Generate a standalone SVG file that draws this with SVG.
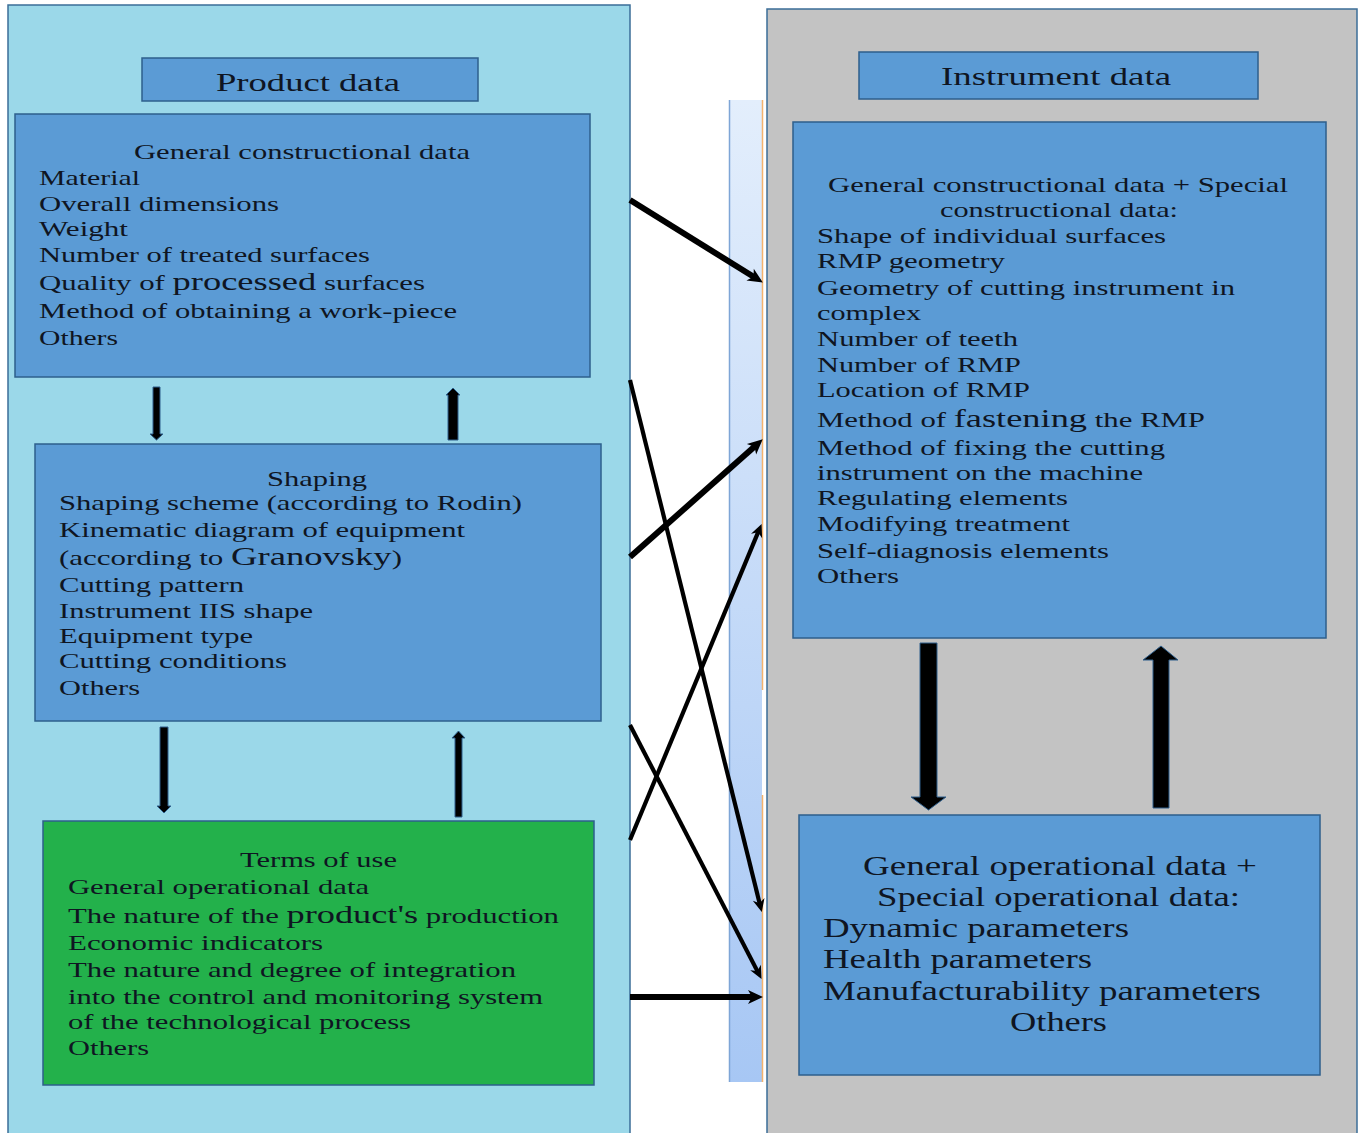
<svg xmlns="http://www.w3.org/2000/svg" width="1363" height="1133" viewBox="0 0 1363 1133">
<defs>
<style>
.panelL{fill:#9bd8e9;stroke:#3b6e98;stroke-width:1.5}
.panelR{fill:#c3c3c3;stroke:#3b6e98;stroke-width:1.5}
.box{fill:#5b9bd5;stroke:#2e5f8c;stroke-width:1.5}
.green{fill:#23b14b;stroke:#2e5f8c;stroke-width:1.5}
text{font-family:"Liberation Serif","Times New Roman",serif;fill:#0f1522}
.t{font-size:22px}
.h{font-size:26px}
.b{font-size:27px}
.big{font-size:26px}
.conn line{stroke:#000}
.blk{fill:#000;stroke:#2e5f8c;stroke-width:1}
</style>
<linearGradient id="strip" x1="0" y1="0" x2="0" y2="1">
<stop offset="0" stop-color="#e3eefc"/>
<stop offset="1" stop-color="#a7c7f4"/>
</linearGradient>
<marker id="ah" markerUnits="userSpaceOnUse" viewBox="-1 -9 18 18" markerWidth="18" markerHeight="18" refX="6" refY="0" orient="auto">
<path d="M0,-7 L15,0 L0,7 L4,0 Z" fill="#000"/>
</marker>
<marker id="ahs" markerUnits="userSpaceOnUse" viewBox="-1 -8 16 16" markerWidth="16" markerHeight="16" refX="6" refY="0" orient="auto">
<path d="M0,-6 L13,0 L0,6 L4,0 Z" fill="#000"/>
</marker>
</defs>

<g id="product-panel">
<rect class="panelL" x="8" y="5" width="622" height="1140"/>
</g>
<g id="instrument-panel">
<rect class="panelR" x="767" y="9" width="590" height="1140"/>
</g>
<g id="middle-strip">
<rect x="729" y="100" width="33" height="982" fill="url(#strip)"/>
<line x1="729.5" y1="100" x2="729.5" y2="1082" stroke="#7ea5d6" stroke-width="1.5"/>
<line x1="762.5" y1="100" x2="762.5" y2="690" stroke="#f4b26c" stroke-width="1.5"/>
<line x1="762.5" y1="795" x2="762.5" y2="1082" stroke="#f4b26c" stroke-width="1.5"/>
</g>

<g id="product-data">
<rect class="box" x="142" y="58" width="336" height="43"/>
<text class="h" x="216" y="91" textLength="184" lengthAdjust="spacingAndGlyphs">Product data</text>
</g>

<g id="general-constructional">
<rect class="box" x="15" y="114" width="575" height="263"/>
<text class="t" x="134" y="159" textLength="336" lengthAdjust="spacingAndGlyphs">General constructional data</text>
<text class="t" x="39" y="185" textLength="101" lengthAdjust="spacingAndGlyphs">Material</text>
<text class="t" x="39" y="211" textLength="240" lengthAdjust="spacingAndGlyphs">Overall dimensions</text>
<text class="t" x="39" y="236" textLength="89" lengthAdjust="spacingAndGlyphs">Weight</text>
<text class="t" x="39" y="262" textLength="331" lengthAdjust="spacingAndGlyphs">Number of treated surfaces</text>
<text class="t" x="39" y="290" textLength="386" lengthAdjust="spacingAndGlyphs">Quality of <tspan class="big">processed</tspan> surfaces</text>
<text class="t" x="39" y="318" textLength="418" lengthAdjust="spacingAndGlyphs">Method of obtaining a work-piece</text>
<text class="t" x="39" y="345" textLength="79" lengthAdjust="spacingAndGlyphs">Others</text>
</g>

<g id="shaping">
<rect class="box" x="35" y="444" width="566" height="277"/>
<text class="t" x="267" y="486" textLength="100" lengthAdjust="spacingAndGlyphs">Shaping</text>
<text class="t" x="59" y="510" textLength="463" lengthAdjust="spacingAndGlyphs">Shaping scheme (according to Rodin)</text>
<text class="t" x="59" y="537" textLength="406" lengthAdjust="spacingAndGlyphs">Kinematic diagram of equipment</text>
<text class="t" x="59" y="565" textLength="343" lengthAdjust="spacingAndGlyphs">(according to <tspan class="big">Granovsky</tspan>)</text>
<text class="t" x="59" y="592" textLength="185" lengthAdjust="spacingAndGlyphs">Cutting pattern</text>
<text class="t" x="59" y="618" textLength="254" lengthAdjust="spacingAndGlyphs">Instrument IIS shape</text>
<text class="t" x="59" y="643" textLength="194" lengthAdjust="spacingAndGlyphs">Equipment type</text>
<text class="t" x="59" y="668" textLength="228" lengthAdjust="spacingAndGlyphs">Cutting conditions</text>
<text class="t" x="59" y="695" textLength="81" lengthAdjust="spacingAndGlyphs">Others</text>
</g>

<g id="terms-of-use">
<rect class="green" x="43" y="821" width="551" height="264"/>
<text class="t" x="240" y="867" textLength="157" lengthAdjust="spacingAndGlyphs">Terms of use</text>
<text class="t" x="68" y="894" textLength="301" lengthAdjust="spacingAndGlyphs">General operational data</text>
<text class="t" x="68" y="923" textLength="491" lengthAdjust="spacingAndGlyphs">The nature of the <tspan class="big">product's</tspan> production</text>
<text class="t" x="68" y="950" textLength="255" lengthAdjust="spacingAndGlyphs">Economic indicators</text>
<text class="t" x="68" y="977" textLength="448" lengthAdjust="spacingAndGlyphs">The nature and degree of integration</text>
<text class="t" x="68" y="1004" textLength="475" lengthAdjust="spacingAndGlyphs">into the control and monitoring system</text>
<text class="t" x="68" y="1029" textLength="343" lengthAdjust="spacingAndGlyphs">of the technological process</text>
<text class="t" x="68" y="1055" textLength="81" lengthAdjust="spacingAndGlyphs">Others</text>
</g>

<g id="instrument-data">
<rect class="box" x="859" y="52" width="399" height="47"/>
<text class="h" x="941" y="85" textLength="230" lengthAdjust="spacingAndGlyphs">Instrument data</text>
</g>

<g id="constructional-instrument">
<rect class="box" x="793" y="122" width="533" height="516"/>
<text class="t" x="828" y="192" textLength="460" lengthAdjust="spacingAndGlyphs">General constructional data + Special</text>
<text class="t" x="940" y="217" textLength="238" lengthAdjust="spacingAndGlyphs">constructional data:</text>
<text class="t" x="817" y="243" textLength="349" lengthAdjust="spacingAndGlyphs">Shape of individual surfaces</text>
<text class="t" x="817" y="268" textLength="188" lengthAdjust="spacingAndGlyphs">RMP geometry</text>
<text class="t" x="817" y="295" textLength="418" lengthAdjust="spacingAndGlyphs">Geometry of cutting instrument in</text>
<text class="t" x="817" y="320" textLength="104" lengthAdjust="spacingAndGlyphs">complex</text>
<text class="t" x="817" y="346" textLength="201" lengthAdjust="spacingAndGlyphs">Number of teeth</text>
<text class="t" x="817" y="372" textLength="204" lengthAdjust="spacingAndGlyphs">Number of RMP</text>
<text class="t" x="817" y="397" textLength="213" lengthAdjust="spacingAndGlyphs">Location of RMP</text>
<text class="t" x="817" y="427" textLength="388" lengthAdjust="spacingAndGlyphs">Method of <tspan class="big">fastening</tspan> the RMP</text>
<text class="t" x="817" y="455" textLength="348" lengthAdjust="spacingAndGlyphs">Method of fixing the cutting</text>
<text class="t" x="817" y="480" textLength="326" lengthAdjust="spacingAndGlyphs">instrument on the machine</text>
<text class="t" x="817" y="505" textLength="251" lengthAdjust="spacingAndGlyphs">Regulating elements</text>
<text class="t" x="817" y="531" textLength="253" lengthAdjust="spacingAndGlyphs">Modifying treatment</text>
<text class="t" x="817" y="558" textLength="292" lengthAdjust="spacingAndGlyphs">Self-diagnosis elements</text>
<text class="t" x="817" y="583" textLength="82" lengthAdjust="spacingAndGlyphs">Others</text>
</g>

<g id="operational-instrument">
<rect class="box" x="799" y="815" width="521" height="260"/>
<text class="b" x="863" y="875" textLength="394" lengthAdjust="spacingAndGlyphs">General operational data +</text>
<text class="b" x="877" y="906" textLength="363" lengthAdjust="spacingAndGlyphs">Special operational data:</text>
<text class="b" x="823" y="937" textLength="306" lengthAdjust="spacingAndGlyphs">Dynamic parameters</text>
<text class="b" x="823" y="968" textLength="269" lengthAdjust="spacingAndGlyphs">Health parameters</text>
<text class="b" x="823" y="1000" textLength="438" lengthAdjust="spacingAndGlyphs">Manufacturability parameters</text>
<text class="b" x="1010" y="1031" textLength="97" lengthAdjust="spacingAndGlyphs">Others</text>
</g>

<g id="connectors" class="conn">
<line x1="630" y1="200" x2="755.2" y2="277.8" stroke-width="6" marker-end="url(#ah)"/>
<line x1="630" y1="380" x2="760.1" y2="905.2" stroke-width="4.2" marker-end="url(#ahs)"/>
<line x1="630" y1="557" x2="756" y2="445.3" stroke-width="6" marker-end="url(#ah)"/>
<line x1="630" y1="840" x2="758.9" y2="530.4" stroke-width="4.2" marker-end="url(#ahs)"/>
<line x1="630" y1="725" x2="758.3" y2="972.9" stroke-width="4.2" marker-end="url(#ahs)"/>
<line x1="630" y1="997" x2="754" y2="997" stroke-width="6" marker-end="url(#ah)"/>
<path class="blk" d="M153,387 H160 V434 H163 L156.5,440 L150,434 H153 Z"/>
<path class="blk" d="M448,440 V395 H446 L453,388 L460,395 H458 V440 Z"/>
<path class="blk" d="M160,727 H168 V806 H171 L164,813 L157,806 H160 Z"/>
<path class="blk" d="M455,817 V738 H452 L458.5,731 L465,738 H462 V817 Z"/>
<path class="blk" d="M920,643 H937 V797 H946 L928.5,810 L911,797 H920 Z"/>
<path class="blk" d="M1153,808 V660 H1143 L1161,646 L1178,660 H1169 V808 Z"/>
</g>
</svg>
